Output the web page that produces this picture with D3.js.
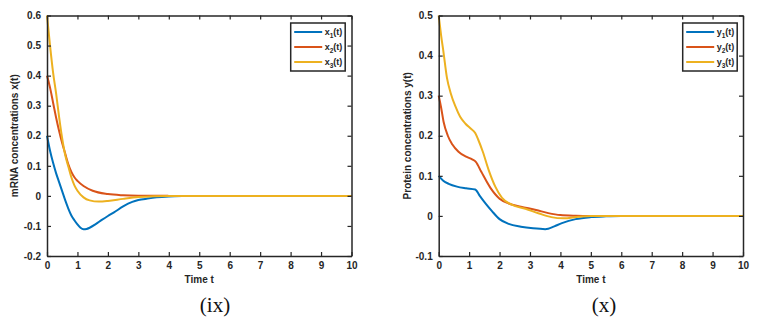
<!DOCTYPE html>
<html>
<head>
<meta charset="utf-8">
<script src="https://cdn.jsdelivr.net/npm/d3@7"></script>
<style>
  body { margin: 0; background: #fff; }
  #chart { width: 764px; height: 320px; }
  text { font-family: Arial, "Liberation Sans", sans-serif; }
</style>
</head>
<body>
<div id="chart"></div>
<script>
// mRNA panel (ix)
const tX1 = [0, 0.1, 0.2, 0.3, 0.4, 0.5, 0.6, 0.7, 0.8, 0.9, 1.0, 1.1, 1.2, 1.3, 1.4, 1.6, 1.8, 2.0, 2.2, 2.5, 2.8, 3.0, 3.3, 3.6, 4.0, 4.5, 5, 6, 7, 8, 9, 10];
const x1 = [0.2, 0.15, 0.11, 0.075, 0.045, 0.015, -0.015, -0.042, -0.065, -0.081, -0.095, -0.106, -0.111, -0.11, -0.106, -0.094, -0.08, -0.067, -0.055, -0.035, -0.02, -0.014, -0.009, -0.005, -0.002, -0.0005, 0, 0, 0, 0, 0, 0];
const tX2 = [0, 0.1, 0.2, 0.3, 0.4, 0.5, 0.6, 0.7, 0.8, 0.9, 1.0, 1.2, 1.5, 2.0, 2.5, 3.0, 4, 5, 6, 7, 8, 9, 10];
const x2 = [0.4, 0.36, 0.31, 0.26, 0.215, 0.175, 0.14, 0.105, 0.08, 0.062, 0.05, 0.033, 0.017, 0.006, 0.002, 0.0005, 0, 0, 0, 0, 0, 0, 0];
const tX3 = [0, 0.1, 0.2, 0.3, 0.4, 0.5, 0.6, 0.7, 0.8, 0.9, 1.0, 1.2, 1.4, 1.7, 2.0, 2.5, 3.0, 3.5, 4, 5, 6, 7, 8, 9, 10];
const x3 = [0.6, 0.5, 0.41, 0.34, 0.26, 0.19, 0.135, 0.098, 0.062, 0.035, 0.017, -0.005, -0.015, -0.019, -0.017, -0.01, -0.004, -0.001, 0, 0, 0, 0, 0, 0, 0];

// protein panel (x)
const tY1 = [0, 0.15, 0.33, 0.6, 0.9, 1.2, 1.35, 1.55, 1.75, 2.0, 2.3, 2.7, 3.1, 3.5, 3.6, 3.8, 4.05, 4.5, 5.0, 5.5, 6, 7, 8, 9, 10];
const y1 = [0.1, 0.088, 0.08, 0.073, 0.069, 0.066, 0.05, 0.03, 0.012, -0.008, -0.02, -0.027, -0.031, -0.033, -0.032, -0.026, -0.018, -0.008, -0.003, -0.001, 0, 0, 0, 0, 0];
const tY2 = [0, 0.08, 0.16, 0.3, 0.45, 0.65, 0.9, 1.1, 1.22, 1.4, 1.7, 2.0, 2.3, 2.7, 3.2, 3.6, 4.0, 4.5, 5, 6, 7, 8, 9, 10];
const y2 = [0.3, 0.27, 0.235, 0.2, 0.178, 0.16, 0.148, 0.141, 0.135, 0.11, 0.07, 0.043, 0.031, 0.023, 0.015, 0.007, 0.002, 0.0005, 0, 0, 0, 0, 0, 0];
const tY3 = [0, 0.08, 0.16, 0.27, 0.4, 0.55, 0.7, 0.88, 1.05, 1.2, 1.3, 1.45, 1.64, 1.86, 2.08, 2.4, 2.85, 3.3, 3.7, 4.1, 4.6, 5, 6, 7, 8, 9, 10];
const y3 = [0.5, 0.45, 0.407, 0.345, 0.305, 0.273, 0.248, 0.23, 0.218, 0.207, 0.19, 0.16, 0.115, 0.073, 0.045, 0.028, 0.018, 0.006, -0.003, -0.006, -0.002, 0, 0, 0, 0, 0, 0];

const xTicks = [0, 1, 2, 3, 4, 5, 6, 7, 8, 9, 10];
const yTicksA = [-0.2, -0.1, 0, 0.1, 0.2, 0.3, 0.4, 0.5, 0.6];
const yTicksB = [-0.1, 0, 0.1, 0.2, 0.3, 0.4, 0.5];
const colors = ['#0072BD', '#D95319', '#EDB120'];

const svg = d3.select('#chart').append('svg').attr('width', 764).attr('height', 320);
const axisColor = '#262626';

function drawPanel(opt) {
  const x = d3.scaleLinear().domain([0, 10]).range([opt.left, opt.right]);
  const y = d3.scaleLinear().domain(opt.yDomain).range([opt.bottom, opt.top]);
  const g = svg.append('g');

  // lines
  const line = d3.line().x(d => x(d[0])).y(d => y(d[1])).curve(d3.curveMonotoneX);
  opt.series.forEach((s, i) => {
    g.append('path')
      .datum(s.t.map((t, j) => [t, s.v[j]]))
      .attr('d', line)
      .attr('fill', 'none')
      .attr('stroke', colors[i])
      .attr('stroke-width', 2);
  });

  // axes, ticks inside, box on
  const fmt = d => (d === 0 ? '0' : String(d));
  const bottomAx = g.append('g').attr('transform', 'translate(0,' + opt.bottom + ')')
    .call(d3.axisBottom(x).tickValues(xTicks).tickSizeInner(-4).tickSizeOuter(0).tickPadding(6).tickFormat(fmt));
  const topAx = g.append('g').attr('transform', 'translate(0,' + opt.top + ')')
    .call(d3.axisTop(x).tickValues(xTicks).tickSizeInner(-4).tickSizeOuter(0).tickFormat(''));
  const leftAx = g.append('g').attr('transform', 'translate(' + opt.left + ',0)')
    .call(d3.axisLeft(y).tickValues(opt.yTicks).tickSizeInner(-4).tickSizeOuter(0).tickPadding(6).tickFormat(fmt));
  const rightAx = g.append('g').attr('transform', 'translate(' + opt.right + ',0)')
    .call(d3.axisRight(y).tickValues(opt.yTicks).tickSizeInner(-4).tickSizeOuter(0).tickFormat(''));
  [bottomAx, topAx, leftAx, rightAx].forEach(a => {
    a.selectAll('path.domain').attr('stroke', axisColor).attr('stroke-width', 1.5);
    a.selectAll('.tick line').attr('stroke', axisColor).attr('stroke-width', 1.2);
    a.selectAll('text').attr('fill', axisColor).attr('font-size', 10).attr('font-weight', 'bold');
  });

  // axis labels
  g.append('text')
    .attr('x', (opt.left + opt.right) / 2).attr('y', 283)
    .attr('text-anchor', 'middle').attr('font-size', 10).attr('font-weight', 'bold')
    .attr('fill', axisColor).text('Time t');
  g.append('text')
    .attr('transform', 'translate(' + opt.yLabelX + ',' + (opt.top + opt.bottom) / 2 + ') rotate(-90)')
    .attr('text-anchor', 'middle').attr('font-size', 10).attr('font-weight', 'bold')
    .attr('fill', axisColor).text(opt.yLabel);

  // legend
  const lg = g.append('g').attr('transform', 'translate(' + opt.legendX + ',23)');
  lg.append('rect').attr('x', 0).attr('y', 0).attr('width', 54.5).attr('height', 48)
    .attr('fill', '#fff').attr('stroke', axisColor).attr('stroke-width', 1.5);
  opt.series.forEach((s, i) => {
    const yy = 9 + i * 15;
    lg.append('line').attr('x1', 3.5).attr('x2', 31.5).attr('y1', yy).attr('y2', yy)
      .attr('stroke', colors[i]).attr('stroke-width', 2);
    const tx = lg.append('text').attr('x', 34).attr('y', yy + 3)
      .attr('font-size', 9).attr('font-weight', 'bold').attr('fill', axisColor);
    tx.append('tspan').text(opt.sym);
    tx.append('tspan').attr('font-size', 6.5).attr('dy', 2.5).text(String(i + 1));
    tx.append('tspan').attr('dy', -2.5).text('(t)');
  });

  // caption
  svg.append('text').attr('x', opt.captionX).attr('y', 312)
    .attr('text-anchor', 'middle')
    .style('font-family', '"Liberation Serif", "Times New Roman", serif')
    .attr('font-size', 21).attr('fill', '#111').text(opt.caption);
}

drawPanel({
  left: 47, right: 351.5, top: 15.5, bottom: 256,
  yDomain: [-0.2, 0.6], yTicks: yTicksA,
  yLabel: 'mRNA concentrations x(t)', yLabelX: 18,
  series: [{ t: tX1, v: x1 }, { t: tX2, v: x2 }, { t: tX3, v: x3 }],
  sym: 'x', legendX: 290.7, caption: '(ix)', captionX: 215
});
drawPanel({
  left: 438.7, right: 743, top: 15.5, bottom: 256,
  yDomain: [-0.1, 0.5], yTicks: yTicksB,
  yLabel: 'Protein concentrations y(t)', yLabelX: 411,
  series: [{ t: tY1, v: y1 }, { t: tY2, v: y2 }, { t: tY3, v: y3 }],
  sym: 'y', legendX: 682.7, caption: '(x)', captionX: 604
});
</script>
</body>
</html>
